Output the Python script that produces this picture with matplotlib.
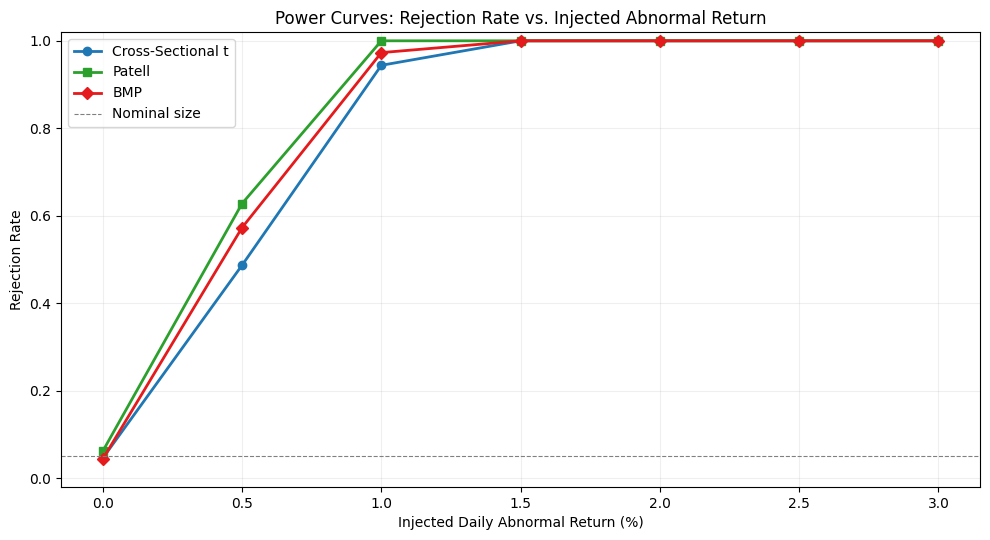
import matplotlib
matplotlib.use("Agg")
import matplotlib.pyplot as plt

shifts = [0.0, 0.5, 1.0, 1.5, 2.0, 2.5, 3.0]
cs_t = [0.046, 0.487, 0.944, 1.0, 1.0, 1.0, 1.0]
patell = [0.062, 0.628, 1.0, 1.0, 1.0, 1.0, 1.0]
bmp = [0.044, 0.573, 0.973, 1.0, 1.0, 1.0, 1.0]
nominal = 0.05

fig, ax = plt.subplots(figsize=(9.9, 5.4), dpi=100)
ax.plot(shifts, cs_t, marker="o", lw=2, color="#1f77b4", label="Cross-Sectional t")
ax.plot(shifts, patell, marker="s", lw=2, color="#2ca02c", label="Patell")
ax.plot(shifts, bmp, marker="D", lw=2, color="#e41a1c", label="BMP")
ax.axhline(nominal, color="gray", ls="--", lw=0.8, label="Nominal size")
ax.set_xlabel("Injected Daily Abnormal Return (%)")
ax.set_ylabel("Rejection Rate")
ax.set_title("Power Curves: Rejection Rate vs. Injected Abnormal Return")
ax.set_ylim(-0.02, 1.02)
ax.grid(True, alpha=0.2)
ax.legend(loc="upper left")
fig.tight_layout(pad=0.7)
fig.savefig("out.png")
